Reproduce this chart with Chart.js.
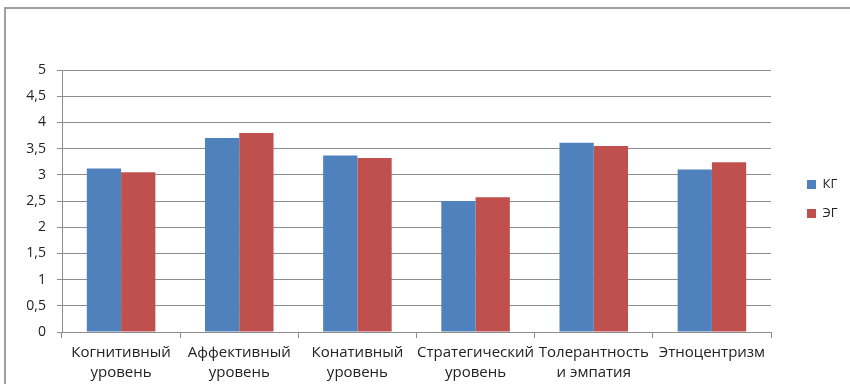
<!DOCTYPE html>
<html>
<head>
<meta charset="utf-8">
<script src="https://cdn.jsdelivr.net/npm/chart.js@4/dist/chart.umd.min.js"></script>
<style>
  html, body { margin: 0; padding: 0; background: #fff; overflow: hidden; }
  #wrap { position: relative; width: 850px; height: 384px; }
  #frame { position: absolute; left: 4px; top: 7px; width: 900px; height: 500px;
           border: 2px solid #a0a0a0; box-sizing: border-box; }
  #c { position: absolute; left: 0; top: 0; }
</style>
</head>
<body>
<div id="wrap">
  <div id="frame"></div>
  <canvas id="c" width="850" height="384"></canvas>
</div>
<script>
// Categories (two-line labels) and group means
const categories = [
  ['Когнитивный', 'уровень'],
  ['Аффективный', 'уровень'],
  ['Конативный', 'уровень'],
  ['Стратегический', 'уровень'],
  ['Толерантность', 'и эмпатия'],
  ['Этноцентризм']
];
const seriesNames = ['КГ', 'ЭГ'];
const kgValues = [3.12, 3.70, 3.37, 2.50, 3.61, 3.10];
const egValues = [3.05, 3.80, 3.32, 2.57, 3.55, 3.24];
const yTicks = [0, 0.5, 1, 1.5, 2, 2.5, 3, 3.5, 4, 4.5, 5];

const FONT = "'Open Sans', 'Liberation Sans', sans-serif";
const GRID = '#8c8c8c';
const TEXT = '#222';

// Legend column: fixed width on the right, items inset from the plot edge
const legendBox = {
  id: 'legendBox',
  beforeLayout(chart) {
    const lg = chart.legend;
    if (lg && !lg._fixedFit) {
      const fit = lg.fit;
      lg.fit = function () { fit.call(this); this.width = 79; };
      lg._fixedFit = true;
    }
  },
  afterLayout(chart) {
    const lg = chart.legend;
    if (lg) { lg.left += 20; lg.right += 20; lg.top -= 28; lg.bottom -= 28; }
  }
};

new Chart(document.getElementById('c'), {
  type: 'bar',
  data: {
    labels: categories,
    datasets: [
      { label: seriesNames[0], data: kgValues, backgroundColor: '#4F81BD' },
      { label: seriesNames[1], data: egValues, backgroundColor: '#C0504D' }
    ]
  },
  plugins: [legendBox],
  options: {
    responsive: false,
    animation: false,
    devicePixelRatio: 1,
    layout: { padding: { left: 0, right: 0, top: 70, bottom: 0 } },
    datasets: { bar: { categoryPercentage: 0.58, barPercentage: 1.0 } },
    plugins: {
      tooltip: { enabled: false },
      legend: {
        position: 'right',
        align: 'center',
        labels: {
          boxWidth: 9, boxHeight: 9, padding: 16,
          color: TEXT, font: { family: FONT, size: 13 }
        }
      }
    },
    scales: {
      x: {
        grid: { display: true, drawOnChartArea: false, drawTicks: true, tickLength: 6, color: GRID, offset: true },
        border: { display: true, color: GRID },
        ticks: { color: TEXT, font: { family: FONT, size: 15, lineHeight: 1.3 }, maxRotation: 0, autoSkip: false, padding: 5 },
        afterFit: s => { s.height = 384 - 332; }
      },
      y: {
        min: 0, max: 5,
        afterBuildTicks: s => { s.ticks = yTicks.map(v => ({ value: v })); },
        grid: { color: GRID, tickLength: 5 },
        border: { display: true, color: GRID },
        ticks: {
          color: TEXT, padding: 11,
          font: { family: FONT, size: 14 },
          callback: v => String(v).replace('.', ',')
        },
        afterFit: s => { s.width = 62; }
      }
    }
  }
});
</script>
</body>
</html>
